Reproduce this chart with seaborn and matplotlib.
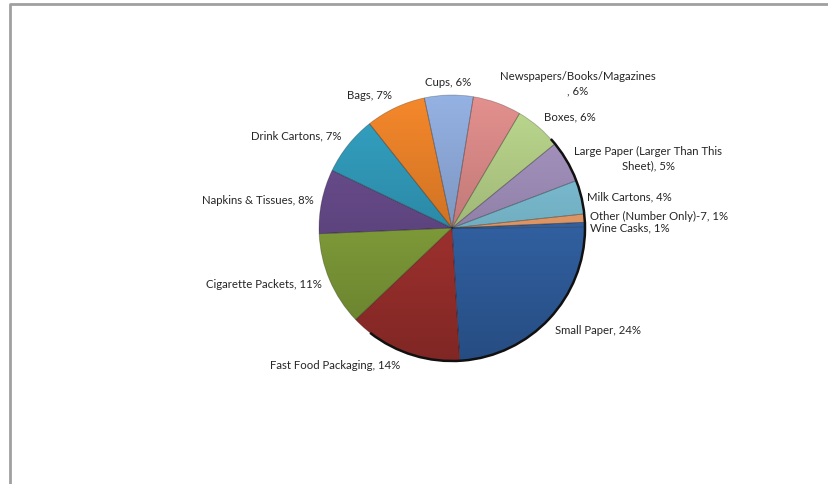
import numpy as np
import matplotlib
matplotlib.use("Agg")
import matplotlib.pyplot as plt
import matplotlib.colors as mcolors
from matplotlib.patches import Arc
import seaborn as sns

# litter categories, in clockwise order starting at 3 o'clock
categories = ["Small Paper", "Fast Food Packaging", "Cigarette Packets",
              "Napkins & Tissues", "Drink Cartons", "Bags", "Cups",
              "Newspapers/Books/Magazines", "Boxes",
              "Large Paper (Larger Than This Sheet)", "Milk Cartons",
              "Other (Number Only)-7", "Wine Casks"]
# label text as wrapped in the original chart
label_names = ["Small Paper", "Fast Food Packaging", "Cigarette Packets",
               "Napkins & Tissues", "Drink Cartons", "Bags", "Cups",
               "Newspapers/Books/Magazines\n", "Boxes",
               "Large Paper (Larger Than This\nSheet)", "Milk Cartons",
               "Other (Number Only)-7", "Wine Casks"]
shares = [24.1, 13.8, 11.4, 7.8, 7.2, 7.3, 5.9, 5.9, 5.6, 5.1, 4.1, 1.0, 0.6]
colors = ["#3468b0", "#ad3431", "#89a93c", "#674a8c", "#2e98b8", "#e77e25",
          "#8aa6d6", "#d68684", "#b1cc84", "#a08eba", "#7cc0d6", "#f6a36c",
          "#3468b0"]

sns.set_theme(style="white")
plt.rcParams["font.family"] = ["Lato", "DejaVu Sans"]

fig = plt.figure(figsize=(8.29, 4.85), dpi=100)
ax = fig.add_axes([0, 0, 1, 1])

cx, cy, R = 452, 256, 133
wedges, _ = ax.pie(shares, colors=colors, startangle=0.3, counterclock=False,
                   center=(cx, cy), radius=R, frame=True,
                   wedgeprops=dict(edgecolor=(0, 0, 0, 0.25), linewidth=0.6))
ax.set_xlim(0, 829)
ax.set_ylim(0, 485)
ax.set_aspect("equal")
ax.axis("off")

# vertical shading: lighter at top, darker at bottom
t = np.linspace(0, 1, 256)[:, None]
for w, c in zip(wedges, colors):
    rgb = np.array(mcolors.to_rgb(c))
    light = np.clip(rgb * 1.04 + 0.02, 0, 1)
    dark = rgb * 0.74
    img = (light[None, :] * (1 - t) + dark[None, :] * t)[:, None, :]
    im = ax.imshow(img, extent=[cx - R, cx + R, cy - R, cy + R],
                   origin="upper", aspect="auto", zorder=2,
                   interpolation="bilinear")
    im.set_clip_path(w)
    w.set_facecolor("none")
    w.set_zorder(3)

# dark rim on the lower right side
ax.add_patch(Arc((cx, cy), 2 * R, 2 * R, theta1=-128, theta2=42,
                 color="#111111", lw=1.8, zorder=4))

# label anchors along each slice's middle angle
total = sum(shares)
pos = []
for w in wedges:
    th = np.deg2rad((w.theta1 + w.theta2) / 2)
    c, s = np.cos(th), np.sin(th)
    r = 1.04 if c > 0.9 else 1.06
    pos.append([cx + r * R * c, cy + r * R * s, c, s])
# keep the two thin slices' labels from sitting on each other
gap = 10.5
if pos[-2][1] - pos[-1][1] < gap:
    d = (gap - (pos[-2][1] - pos[-1][1])) / 2
    pos[-2][1] += d
    pos[-1][1] -= d

for (x, y, c, s), name, v in zip(pos, label_names, shares):
    ha = "left" if c > 0.25 else ("right" if c < -0.25 else "center")
    va = "bottom" if s > 0.55 else ("top" if s < -0.55 else "center")
    ax.text(x, y, f"{name}, {round(v / total * 100)}%", ha=ha, va=va,
            multialignment="center", fontsize=8.2, color="#262626",
            linespacing=1.4)

# chart frame (top and left edges visible)
ax.plot([10, 10, 829], [0, 480, 480], color="#a0a0a0", lw=2,
        solid_capstyle="butt")

fig.savefig("out.png", dpi=100)
